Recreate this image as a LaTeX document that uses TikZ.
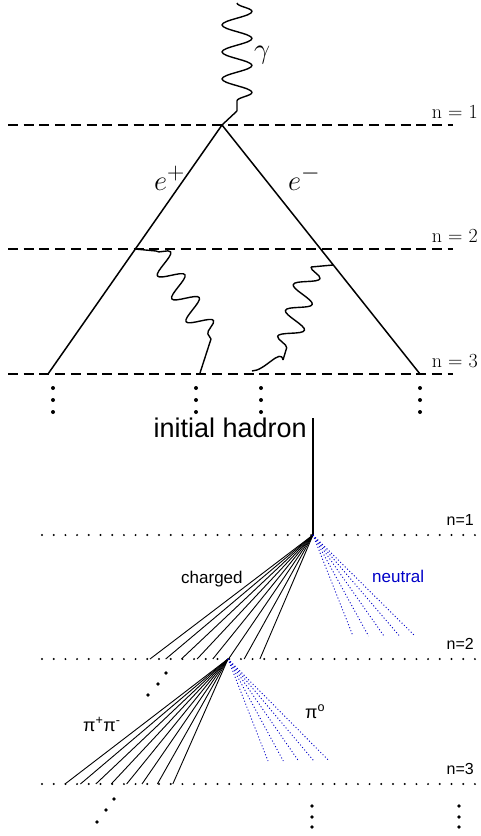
\documentclass[tikz,border=0pt]{standalone}
\usepackage{fontspec}
\newfontfamily\arialsf{Liberation Sans}
\usepackage{tikz}
\usetikzlibrary{decorations.pathmorphing,positioning}
\definecolor{pionblue}{HTML}{0000C8}
\tikzset{
    every picture/.style={line join=round},
    levelline/.style={line width=2.2pt,dash pattern=on 10pt off 5.7pt},
    genline/.style={line width=2.2pt,line cap=round,dash pattern=on 0pt off 11.7pt},
    lepton/.style={line width=1.5pt},
    photon/.style={line width=1.4pt,decorate,
      decoration={snake,amplitude=#1,segment length=27pt}},
    photon/.default=15pt,
    chargedline/.style={line width=0.9pt},
    neutralline/.style={draw=pionblue,line width=0.9pt,dash pattern=on 1pt off 2.2pt},
    bigdot/.style={circle,fill,inner sep=0pt,minimum size=4pt},
    smalldot/.style={circle,fill,inner sep=0pt,minimum size=3.6pt},
    levellabel/.style={anchor=base east,inner sep=0pt,font=\fontsize{20}{20}\selectfont},
    genlabel/.style={anchor=base east,inner sep=0pt,font=\arialsf\fontsize{16}{16}\selectfont},
    mathlabel/.style={anchor=base west,inner sep=0pt,scale=1.15,font=\fontsize{24.88}{25}\selectfont},
    sflabel/.style={anchor=base west,inner sep=0pt,font=\arialsf\fontsize{17}{17}\selectfont}
}

\begin{document}
\begin{tikzpicture}[x=1pt,y=-1pt]
  \useasboundingbox (0,0) rectangle (480,836);
  % upper part: photon converting into a pair
  \foreach \y/\n in {125/1,249/2,374/3} {
    \draw[levelline] (8,\y) -- (453,\y);
    \node[levellabel] at (478,\y-7) {n = \n};
  }
  \coordinate (apex) at (222,125);
  \coordinate (lbase) at (48,374);
  \coordinate (rbase) at (420,374);
  \draw[lepton] (lbase) -- (apex) -- (rbase);
  \coordinate (gtop) at (237,3);
  \coordinate (gend) at (237,111);
  \draw[photon=15pt] (gtop) -- (gend);
  \draw[line width=1.4pt] (gend) -- (apex);
  \node[mathlabel] (gamma) at (254,58) {$\gamma$};
  \node[mathlabel] (eplus) at (154,190) {$e^+$};
  \node[mathlabel] (eminus) at (288,190) {$e^-$};
  % radiated photons
  \coordinate (lw0) at (135,249);
  \coordinate (lw1) at (156,251);
  \coordinate (lw2) at (211,339);
  \coordinate (lw3) at (200,373);
  \draw[line width=1.4pt] (lw0) -- (lw1);
  \draw[photon=12pt] (lw1) -- (lw2);
  \draw[line width=1.4pt] (lw2) -- (lw3);
  \coordinate (rw0) at (333,265);
  \coordinate (rw1) at (311,267);
  \coordinate (rw2) at (283,360);
  \coordinate (rw3) at (252,371);
  \draw[line width=1.4pt] (rw0) -- (rw1);
  \draw[photon=12pt] (rw1) -- (rw2);
  \draw[line width=1.4pt] (rw2) to[out=100,in=0] (rw3);
  \foreach \x [count=\i] in {53,196,261,420} {
    \foreach \y [count=\j] in {388,400,412}
      \node[bigdot] (u\i\j) at (\x,\y) {};
  }
  % lower part: hadron shower
  \foreach \y/\n in {535/1,659/2,784/3} {
    \draw[genline] (42,\y) -- (478,\y);
    \node[genlabel] at (474,\y-10) {n=\n};
  }
  \node[anchor=base east,inner sep=0pt,font=\arialsf\fontsize{27}{27}\selectfont]
    (hadron) at (307,437) {initial hadron};
  \coordinate (htop) at (313,418);
  \coordinate (g1) at (313,535);
  \coordinate (g2) at (228,659);
  \draw[line width=1.3pt] (htop) -- (g1);
  \foreach \i in {0,...,7} {
    \coordinate (ca\i) at ({150+15.7*\i},659);
    \draw[chargedline] (g1) -- (ca\i);
    \coordinate (cb\i) at ({65+15.4*\i},784);
    \draw[chargedline] (g2) -- (cb\i);
  }
  \foreach \i in {0,...,4} {
    \coordinate (na\i) at ({353+15.5*\i},636);
    \draw[neutralline] (g1) -- (na\i);
    \coordinate (nb\i) at ({268+15.3*\i},761);
    \draw[neutralline] (g2) -- (nb\i);
  }
  \node[sflabel] (charged) at (181,583) {charged};
  \node[sflabel,text=pionblue] (neutral) at (372,582) {neutral};
  \node[sflabel,font=\arialsf\fontsize{18}{18}\selectfont] (pipm) at (83,731) {π\textsuperscript{+}π\textsuperscript{-}};
  \node[sflabel,font=\arialsf\fontsize{18}{18}\selectfont] (pizero) at (305,718) {π\textsuperscript{o}};
  \foreach \x/\y [count=\i] in {166/673,158/684,148/695,114/799,106/810,97/822}
    \node[smalldot] (d\i) at (\x,\y) {};
  \foreach \x [count=\i] in {312,459} {
    \foreach \y [count=\j] in {806,817,827}
      \node[smalldot] (v\i\j) at (\x,\y) {};
  }
\end{tikzpicture}
\end{document}
